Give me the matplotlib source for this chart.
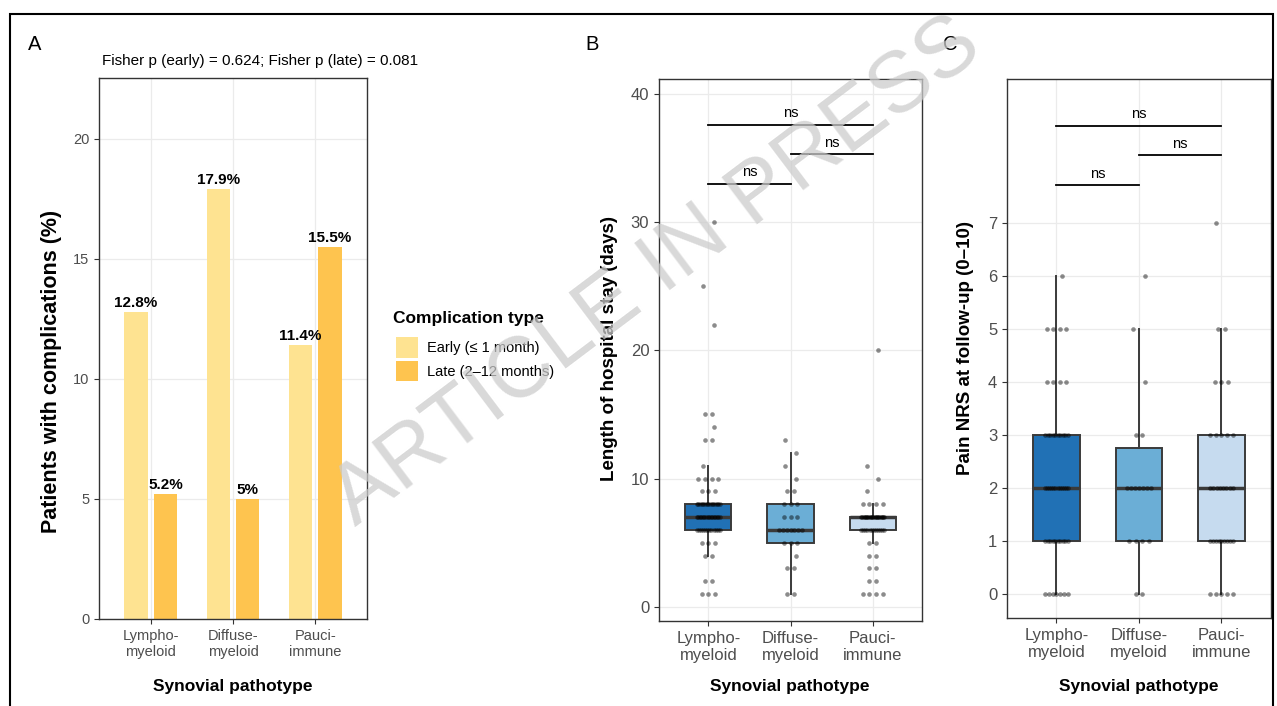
import numpy as np
import matplotlib
matplotlib.use('Agg')
import matplotlib.pyplot as plt
from matplotlib.patches import Patch, Rectangle

plt.rcParams['font.family'] = ['Liberation Sans', 'DejaVu Sans']

# pathotype groups
groups = ['Lympho-\nmyeloid', 'Diffuse-\nmyeloid', 'Pauci-\nimmune']

# panel A: complication rates (%)
early_pct = [12.8, 17.9, 11.4]
late_pct = [5.2, 5.0, 15.5]
fisher_txt = 'Fisher p (early) = 0.624; Fisher p (late) = 0.081'

# panel B: length of hospital stay (days)
los_lympho = [1, 1, 1, 2, 2, 4, 4, 5, 5, 5,
              6, 6, 6, 6, 6, 6, 6, 6, 6, 6, 6, 6,
              7, 7, 7, 7, 7, 7, 7, 7, 7, 7, 7, 7, 7, 7, 7, 7,
              8, 8, 8, 8, 8, 8, 8, 8, 8, 8, 8, 8, 8, 8, 8,
              9, 9, 9, 10, 10, 10, 10, 11, 13, 13, 14, 15, 15, 22, 25, 30]
los_diffuse = [1, 1, 3, 3, 4, 5, 5, 5, 6, 6, 6, 6, 6, 6, 6,
               7, 7, 7, 8, 8, 8, 9, 9, 10, 11, 12, 13]
los_pauci = [1, 1, 1, 1, 2, 2, 3, 3, 4, 4, 5, 5,
             6, 6, 6, 6, 6, 6, 6, 6, 6, 6, 6, 6,
             7, 7, 7, 7, 7, 7, 7, 7, 7, 7, 7, 7, 7, 7, 7, 7, 7, 7, 7, 7,
             8, 8, 8, 8, 9, 10, 11, 20]

# panel C: pain NRS at follow-up (0-10)
nrs_lympho = [0, 0, 0, 0, 0, 0, 0,
              1, 1, 1, 1, 1, 1, 1, 1, 1, 1,
              2, 2, 2, 2, 2, 2, 2, 2, 2, 2, 2, 2,
              3, 3, 3, 3, 3, 3, 3, 3, 3, 3,
              4, 4, 4, 4, 5, 5, 5, 5, 6]
nrs_diffuse = [0, 0, 1, 1, 1, 1, 2, 2, 2, 2, 2, 2, 2, 3, 3, 4, 5, 6]
nrs_pauci = [0, 0, 0, 0, 0, 1, 1, 1, 1, 1, 1, 1, 1, 1,
             2, 2, 2, 2, 2, 2, 2, 2, 3, 3, 3, 3, 3, 4, 4, 4, 5, 5, 7]

# pairwise comparisons: (group i, group j, bracket height, label)
los_pairs = [(1, 2, 33.0, 'ns'), (2, 3, 35.3, 'ns'), (1, 3, 37.6, 'ns')]
nrs_pairs = [(1, 2, 7.72, 'ns'), (2, 3, 8.28, 'ns'), (1, 3, 8.84, 'ns')]

early_col = '#FEE391'
late_col = '#FEC44F'
box_cols = ['#2171B5', '#6BAED6', '#C6DBEF']
tick_col = '#4D4D4D'
frame_col = '#333333'

W, H = 1277, 706
fig = plt.figure(figsize=(W / 100, H / 100), dpi=100)


def px_axes(left, top, right, bottom):
    return fig.add_axes([left / W, 1 - bottom / H, (right - left) / W, (bottom - top) / H])


def style(ax, tick_size):
    for s in ax.spines.values():
        s.set_color(frame_col)
        s.set_linewidth(1.0)
    ax.grid(True, color='#EBEBEB', lw=0.9)
    ax.set_axisbelow(True)
    ax.tick_params(colors=frame_col, labelcolor=tick_col, labelsize=tick_size,
                   length=3.5, width=0.8)


def spread(vals, centre):
    # evenly spaced horizontal offsets for points sharing a value
    vals = np.asarray(vals, dtype=float)
    xs = np.empty_like(vals)
    for v in np.unique(vals):
        idx = np.where(vals == v)[0]
        k = len(idx)
        if k == 1:
            xs[idx] = centre + 0.07 * (1 if int(v) % 2 == 0 else -1)
        else:
            w = min(0.14, 0.04 * (k - 1))
            xs[idx] = centre + np.linspace(-w, w, k)
    return xs


def box_panel(ax, data, pairs):
    pos = np.arange(1, len(data) + 1)
    bp = ax.boxplot(data, positions=pos, widths=0.56, patch_artist=True,
                    showfliers=False, showcaps=False, whis=1.5,
                    boxprops=dict(edgecolor='#3a3a3a', linewidth=1.4),
                    whiskerprops=dict(color='#3a3a3a', linewidth=1.4),
                    medianprops=dict(color='#3a3a3a', linewidth=2.5),
                    zorder=2)
    for patch, c in zip(bp['boxes'], box_cols):
        patch.set_facecolor(c)
    for p, vals in zip(pos, data):
        ax.scatter(spread(vals, p), vals, s=11, color='black', alpha=0.45,
                   linewidths=0, zorder=3)
    for i, j, y, lab in pairs:
        ax.plot([i, j], [y, y], color='black', lw=1.3, zorder=4)
        ax.annotate(lab, xy=((i + j) / 2, y), xytext=(0, 3), textcoords='offset points',
                    ha='center', va='bottom', fontsize=10.5)
    ax.set_xticks(pos)
    ax.set_xticklabels(groups)
    ax.set_xlim(0.4, 3.6)


# A: grouped bars
axA = px_axes(99, 78, 367, 619)
style(axA, 10.5)
x = np.arange(1, len(groups) + 1)
bw, off = 0.28, 0.18
b1 = axA.bar(x - off, early_pct, bw, color=early_col, zorder=2)
b2 = axA.bar(x + off, late_pct, bw, color=late_col, zorder=2)
for bars, vals in ((b1, early_pct), (b2, late_pct)):
    axA.bar_label(bars, labels=[f'{v:g}%' for v in vals], padding=1.5,
                  fontsize=11, fontweight='bold')
axA.set_xticks(x)
axA.set_xticklabels(groups)
axA.set_xlim(0.37, 3.63)
axA.set_ylim(0, 22.54)
axA.set_yticks([0, 5, 10, 15, 20])

# B: hospital stay
axB = px_axes(659, 79, 922, 621)
style(axB, 12)
box_panel(axB, [los_lympho, los_diffuse, los_pauci], los_pairs)
axB.set_ylim(-1.1, 41.15)
axB.set_yticks([0, 10, 20, 30, 40])

# C: pain score
axC = px_axes(1007, 79, 1271, 618)
style(axC, 12)
box_panel(axC, [nrs_lympho, nrs_diffuse, nrs_pauci], nrs_pairs)
axC.set_ylim(-0.45, 9.72)
axC.set_yticks(range(0, 8))

# axis titles
fig.text(52 / W, 1 - 371 / H, 'Patients with complications (%)', rotation=90,
         ha='center', va='center', fontsize=15.5, fontweight='bold')
fig.text(610 / W, 1 - 348 / H, 'Length of hospital stay (days)', rotation=90,
         ha='center', va='center', fontsize=13.5, fontweight='bold')
fig.text(966 / W, 1 - 348 / H, 'Pain NRS at follow-up (0\u201310)', rotation=90,
         ha='center', va='center', fontsize=13.5, fontweight='bold')
for cx in (233, 790, 1139):
    fig.text(cx / W, 1 - 686 / H, 'Synovial pathotype', ha='center', va='center',
             fontsize=12.5, fontweight='bold')

# panel tags and test note
for tag, tx in (('A', 35), ('B', 592), ('C', 950)):
    fig.text(tx / W, 1 - 45 / H, tag, ha='center', va='center', fontsize=14.5)
fig.text(102 / W, 1 - 61 / H, fisher_txt, ha='left', va='center', fontsize=11)

# legend for panel A (title set separately for spacing)
fig.text(393 / W, 1 - 319 / H, 'Complication type', ha='left', va='center',
         fontsize=12.5, fontweight='bold')
fig.legend(handles=[Patch(facecolor=early_col), Patch(facecolor=late_col)],
           labels=['Early (\u2264 1 month)', 'Late (2\u201312 months)'],
           loc='upper left', bbox_to_anchor=(396 / W, 1 - 337 / H), frameon=False,
           fontsize=10.5, handlelength=1.5, handleheight=1.8, handletextpad=0.6,
           labelspacing=0.2, borderpad=0, borderaxespad=0)

# outer frame
fig.add_artist(Rectangle((10 / W, -0.05), (1273 - 10) / W, 1.05 - 14 / H,
                         transform=fig.transFigure, fill=False, ec='black', lw=1.5))

# watermark
fig.text(657 / W, 1 - 272 / H, 'ARTICLE IN PRESS', rotation=37, rotation_mode='anchor',
         ha='center', va='center', fontsize=62, color='#cccccc', alpha=0.75, zorder=10)

fig.savefig('out.png', dpi=100)
